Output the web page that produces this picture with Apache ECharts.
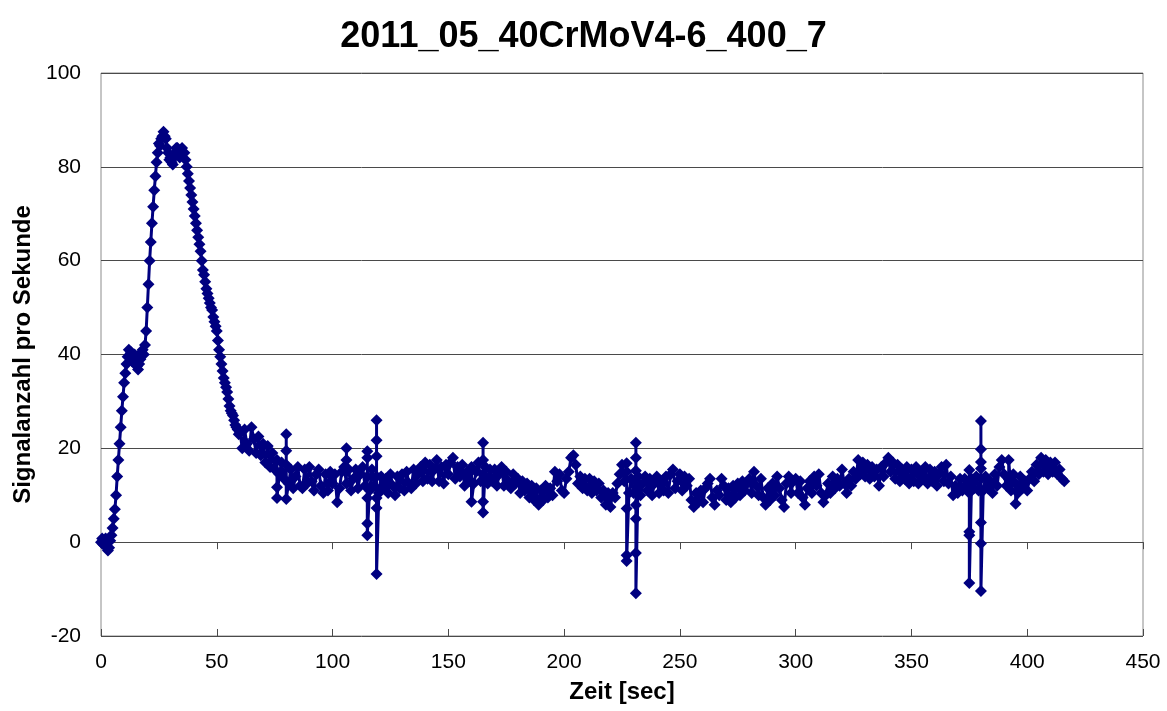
<!DOCTYPE html>
<html>
<head>
<meta charset="utf-8">
<title>2011_05_40CrMoV4-6_400_7</title>
<script src="https://cdn.jsdelivr.net/npm/echarts@6/dist/echarts.min.js"></script>
<style>
  html, body { margin: 0; padding: 0; background: #fff; }
  #chart { width: 1167px; height: 711px; }
</style>
</head>
<body>
<div id="chart"></div>
<script>
// Messung 2011_05_40CrMoV4-6_400_7: Signale pro Sekunde über der Zeit
const titel = '2011_05_40CrMoV4-6_400_7';
const achseX = 'Zeit [sec]';
const achseY = 'Signalanzahl pro Sekunde';

// Abschnitt 1: Anstieg und Abfall, 0 ... 59.5 s, Abtastung 0.5 s
const startA = 0, schrittA = 0.5;
const signalA = [
  0, 0.8, -0.5, 0.5, 0.8, -1, -1.8, -1.2, 0.3, 1.5,
  3, 5, 7, 10, 14, 17.5, 21, 24.5, 28, 31,
  34, 36, 38, 39.5, 41, 40, 40.5, 38.5, 39.5, 40,
  38, 37.5, 36.8, 38, 39, 40.5, 41, 40, 42, 45,
  50, 55, 60, 64, 68, 71.5, 75, 78, 81, 83,
  85, 84.5, 86, 86.5, 87.5, 86.5, 86, 84, 83, 81.5,
  82, 81, 80.5, 82, 83, 84, 84, 83, 82, 83.5,
  84, 83, 83, 81.5, 80, 78.5, 77, 75.5, 74, 72.5,
  71, 69.5, 68, 66.5, 65, 63.5, 62, 60, 58, 57,
  55.5, 54, 53, 52, 51, 50, 49.5, 48, 47, 46,
  45, 43, 41, 39.5, 38, 36.5, 35, 34, 33, 32,
  30.5, 29, 28, 27.5, 27, 26, 25, 24.5, 24, 23
];

// Abschnitt 2: 60 ... 416 s, Abtastung 1 s
const startB = 60, schrittB = 1;
const signalB = [
  23.5, 20, 24, 21, 19.5, 24.5, 22, 19, 22.5, 18.5,
  21, 17, 20.5, 16, 19, 15.5, 17.5, 14.5, 17, 13.5,
  16.5, 12.5, 15.5, 11.5, 14, 16, 12, 11.5, 15.5, 12.5,
  16, 13, 11, 14.5, 15.5, 12, 10.5, 14.5, 11, 15,
  12.5, 14.5, 8.5, 11.5, 15, 16, 12.5, 15.5, 11, 13.5,
  15.5, 11.5, 14.5, 16, 12, 14, 11, 15.5, 12, 14,
  10.5, 14, 11.5, 13.5, 10.5, 14.5, 12, 10, 14, 11.5,
  14.5, 11, 15, 12.5, 11.5, 15.5, 12.5, 14.5, 16, 13,
  17, 13.5, 16.5, 13, 15.5, 17.5, 13, 16, 12.5, 16.5,
  14.5, 17, 18, 13.5, 16, 14, 16.5, 12, 15, 13,
  16, 12.5, 15, 17, 13, 14.5, 16, 12.5, 15.5, 13,
  15.5, 12, 14.5, 16, 12, 15, 13, 11.5, 14.5, 12.5,
  13.5, 10.5, 13, 11, 12.5, 9.5, 12, 9, 11.5, 8,
  11, 9, 12, 9.5, 11.5, 10, 15, 13, 14.5, 11,
  10.5, 13.5, 15, 18, 18.5, 16.5, 12.5, 14, 11.5, 13.5,
  11, 13.5, 10.5, 13, 11, 12.5, 9.5, 11, 8, 10.5,
  7.5, 10.5, 9.5, 12.5, 14.5, 16.5, 13, 15, 10.5, 13.5,
  10.5, 13, 14, 10, 12.5, 14, 11, 13.5, 10, 12.5,
  14, 10.5, 13, 11, 14, 10.5, 14.5, 15.5, 11.5, 13,
  14.5, 11, 14, 12, 13.5, 9, 7.5, 10.5, 8.5, 11,
  8.5, 11.5, 12.5, 13.5, 9.5, 8, 11, 10, 13.5, 12,
  9, 11.5, 8.5, 12, 9.5, 12.5, 10, 13, 11, 12.5,
  13.5, 10.5, 15, 12, 10, 13.5, 9.5, 8, 11.5, 9,
  12.5, 10, 14, 11.5, 9, 7.5, 12.5, 14, 10.5, 13,
  13.5, 10.5, 13, 9.5, 8, 11.5, 13, 10.5, 14, 12,
  14.5, 10.5, 8.5, 10, 12.5, 10.5, 14, 11.5, 13.5, 12,
  15.5, 12.5, 10.5, 13.5, 12, 15, 13.5, 17.5, 14.5, 17,
  14, 16.5, 13.5, 16, 14, 15.5, 12, 16, 14, 17,
  18, 15, 17, 13.5, 16.5, 13, 15.5, 13.5, 16, 12.5,
  15.5, 13, 16, 12.5, 15, 13.5, 16, 12.5, 15.5, 13,
  15, 12, 14.5, 16, 13, 16.5, 12.5, 14, 10, 12,
  10.5, 13.5, 11, 13.5, 12, 10.5, 13.5, 11.5, 14, 11,
  13.5, 11, 14, 11.5, 13, 10.5, 14.5, 12, 16, 17.5,
  14.5, 12, 13.5, 11, 14.5, 12.5, 10.5, 14, 11.5, 13,
  11, 13.5, 15, 13, 16.5, 14.5, 18, 15, 17.5, 14.5,
  17, 15, 17, 14.5, 15.5, 13.5, 13
];

// Kurze Ausreisser: zusätzliche Messwerte innerhalb derselben Sekunde
const ausreisserZeit = [76, 80, 106, 115, 119, 160, 165, 227, 231, 375, 380, 392, 395];
const ausreisserWerte = [
  [11.7, 9.4],
  [23, 19.5, 9.2],
  [20, 17.5],
  [19.4, 18, 9.4, 4, 1.5],
  [26, 21.7, 18.3, 9.4, 7.3, -6.8],
  [8.6],
  [21.2, 17.5, 8.6, 6.3],
  [16.8, 7.2, -2.8, -4],
  [21.2, 18, 15.2, 7.9, 5, -2.3, -10.9],
  [15.4, 2.2, 1.5, -8.7],
  [25.8, 19.8, 17.1, 15.7, 4.2, -0.3, -10.4],
  [17.5],
  [8.2]
];

const xTicks = { min: 0, max: 450, step: 50 };
const yTicks = { min: -20, max: 100, step: 20 };

// Messreihe in zeitlicher Reihenfolge zusammenstellen
const punkte = [];
function anhaengen(werte, start, schritt) {
  werte.forEach((wert, i) => {
    const t = start + i * schritt;
    punkte.push([t, wert]);
    const k = ausreisserZeit.indexOf(t);
    if (k >= 0) ausreisserWerte[k].forEach(v => punkte.push([t, v]));
  });
}
anhaengen(signalA, startA, schrittA);
anhaengen(signalB, startB, schrittB);

const schrift = "'Liberation Sans', Arial, sans-serif";
const farbe = '#000080';
const gitter = '#4a4a4a';

const chart = echarts.init(document.getElementById('chart'), null, { renderer: 'canvas' });
chart.setOption({
  animation: false,
  backgroundColor: '#ffffff',
  title: {
    text: titel,
    left: 'center',
    top: 14,
    textStyle: { fontFamily: schrift, fontSize: 36, fontWeight: 'bold', color: '#000' }
  },
  grid: {
    left: 101, right: 24, top: 73, bottom: 75,
    show: true, borderColor: '#8c8c8c', borderWidth: 1, backgroundColor: '#fff'
  },
  xAxis: [
    {
      type: 'value', position: 'bottom',
      min: xTicks.min, max: xTicks.max, interval: xTicks.step,
      name: achseX, nameLocation: 'middle', nameGap: 44,
      nameTextStyle: { fontFamily: schrift, fontSize: 24, fontWeight: 'bold', color: '#000' },
      axisLine: { show: false, onZero: false },
      axisTick: { show: false },
      splitLine: { show: false },
      axisLabel: { fontFamily: schrift, fontSize: 21, color: '#000', margin: 16 }
    },
    {
      type: 'value', position: 'bottom',
      min: xTicks.min, max: xTicks.max, interval: xTicks.step,
      axisLine: { show: true, onZero: true, lineStyle: { color: gitter, width: 1 } },
      axisTick: { show: true, length: 7, lineStyle: { color: gitter } },
      axisLabel: { show: false },
      splitLine: { show: false }
    },
    {
      type: 'value', position: 'bottom',
      min: xTicks.min, max: xTicks.max, interval: xTicks.step,
      axisLine: { show: false, onZero: true },
      axisTick: { show: true, inside: true, length: 7, lineStyle: { color: gitter } },
      axisLabel: { show: false },
      splitLine: { show: false }
    }
  ],
  yAxis: {
    type: 'value',
    min: yTicks.min, max: yTicks.max, interval: yTicks.step,
    name: achseY, nameLocation: 'middle', nameGap: 62,
    nameTextStyle: { fontFamily: schrift, fontSize: 24, fontWeight: 'bold', color: '#000' },
    axisLine: { show: false },
    axisTick: { show: false },
    axisLabel: { fontFamily: schrift, fontSize: 21, color: '#000', margin: 20 },
    splitLine: { show: true, lineStyle: { color: gitter, width: 1 } }
  },
  series: [{
    type: 'line',
    data: punkte,
    xAxisIndex: 0,
    symbol: 'diamond',
    symbolSize: 12,
    showAllSymbol: true,
    sampling: null,
    color: farbe,
    itemStyle: { color: farbe },
    lineStyle: { color: farbe, width: 3 },
    emphasis: { disabled: true },
    z: 3
  }]
});
</script>
</body>
</html>
